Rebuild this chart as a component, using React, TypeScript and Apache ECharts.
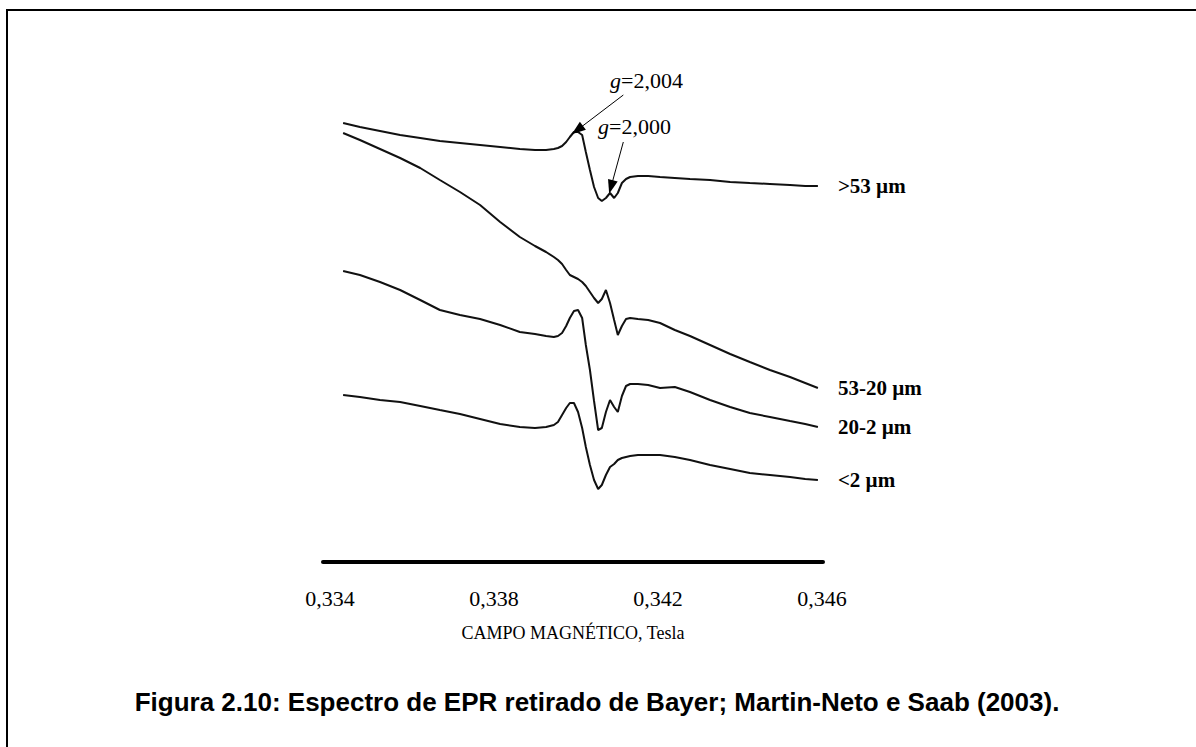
import React, { useEffect, useRef } from "react";
import * as echarts from "echarts";

// Magnetic field (Tesla) sampling of the spectra
const fieldTesla = [
  0.33432, 0.33473, 0.33522, 0.33571, 0.3362, 0.33668, 0.33717, 0.33766, 0.33815, 0.33863,
  0.339, 0.33927, 0.33946, 0.33956, 0.33966, 0.33976, 0.33985, 0.33995, 0.34005, 0.34015,
  0.34024, 0.34034, 0.34044, 0.34054, 0.34063, 0.34073, 0.34083, 0.34093, 0.34102, 0.34112,
  0.34122, 0.34132, 0.34151, 0.34176, 0.34205, 0.34241, 0.34278, 0.34327, 0.34376, 0.34424,
  0.34473, 0.34522, 0.34559, 0.3459,
];

// EPR signal (arbitrary units, stacked with offsets)
const signalGt53 = [
  439, 435, 431, 427, 424, 421, 419, 417, 415, 413,
  412, 412, 413, 414, 416, 420, 425, 430, 430, 427,
  410, 392, 375, 364, 361, 364, 369, 364, 369, 379,
  383, 385, 386, 386, 385, 384, 383, 382, 380, 379,
  378, 377, 376, 376,
];
const signal53to20 = [
  429, 422, 413, 404, 394, 382, 370, 357, 340, 325,
  316, 310, 305, 302, 298, 292, 287, 285, 283, 280,
  276, 270, 264, 259, 263, 272, 259, 242, 227, 236,
  243, 244, 243, 242, 239, 232, 226, 217, 208, 200,
  192, 185, 179, 174,
];
const signal20to2 = [
  291, 287, 280, 272, 262, 252, 247, 243, 237, 230,
  228, 226, 225, 226, 229, 236, 244, 251, 252, 244,
  217, 192, 161, 132, 134, 150, 162, 155, 150, 166,
  176, 178, 178, 177, 174, 175, 170, 162, 155, 149,
  145, 141, 138, 135,
];
const signalLt2 = [
  167, 165, 162, 160, 156, 152, 148, 143, 138, 135,
  134, 135, 137, 140, 147, 154, 159, 159, 150, 134,
  115, 97, 82, 73, 77, 87, 95, 98, 102, 104,
  105, 106, 107, 107, 107, 105, 102, 97, 93, 89,
  87, 85, 83, 82,
];

const traceLabels = [">53 µm", "53-20 µm", "20-2 µm", "<2 µm"];
const tickValues = [0.334, 0.338, 0.342, 0.346];
const axisTitle = "CAMPO MAGNÉTICO, Tesla";
const caption = "Figura 2.10: Espectro de EPR retirado de Bayer; Martin-Neto e Saab (2003).";

// g-factor annotations: label, text anchor, arrow start, arrow tip (data coordinates)
const gLabels = ["2,004", "2,000"];
const gTextAnchor = [[0.340829, 482], [0.340537, 436]];
const gArrowFrom = [[0.341154, 467], [0.341154, 420]];
const gArrowTo = [[0.340032, 432], [0.340854, 375]];

export default function App() {
  const ref = useRef<HTMLDivElement>(null);

  useEffect(() => {
    document.body.style.margin = "0";
    const chart = echarts.init(ref.current!, undefined, { renderer: "svg" });
    const serif = "'Liberation Serif', 'Times New Roman', serif";
    const signals = [signalGt53, signal53to20, signal20to2, signalLt2];

    const series: any[] = signals.map((sig, k) => ({
      type: "line",
      name: traceLabels[k],
      data: fieldTesla.map((f, i) => [f, sig[i]]),
      showSymbol: false,
      silent: true,
      lineStyle: { color: "#111", width: 2 },
      endLabel: {
        show: true,
        formatter: traceLabels[k],
        distance: 20,
        color: "#000",
        fontFamily: serif,
        fontWeight: "bold",
        fontSize: 21,
      },
    }));

    series[0].markLine = {
      silent: true,
      symbol: ["none", "triangle"],
      symbolSize: [10, 14],
      lineStyle: { color: "#000", width: 1, type: "solid" },
      label: { show: false },
      data: gArrowFrom.map((p, i) => [
        { coord: p, symbol: "none" },
        { coord: gArrowTo[i], symbol: "triangle" },
      ]),
    };
    series[0].markPoint = {
      silent: true,
      symbol: "circle",
      symbolSize: 0,
      data: gLabels.map((t, i) => ({
        coord: gTextAnchor[i],
        label: {
          show: true,
          position: "right",
          distance: 0,
          formatter: "{i|g}{n|=" + t + "}",
          rich: {
            i: { fontStyle: "italic", fontFamily: serif, fontSize: 22, color: "#000" },
            n: { fontFamily: serif, fontSize: 22, color: "#000" },
          },
        },
      })),
    };

    chart.setOption({
      animation: false,
      backgroundColor: "#fff",
      grid: { left: 323, right: 373, top: 62, bottom: 185 },
      xAxis: {
        type: "value",
        min: 0.334 - 7 / 41000,
        max: 0.334 + 493 / 41000,
        axisLine: { show: true, lineStyle: { color: "#000", width: 4 } },
        axisTick: { show: false },
        splitLine: { show: false },
        axisLabel: {
          customValues: tickValues,
          formatter: (v: number) => v.toFixed(3).replace(".", ","),
          margin: 25,
          color: "#000",
          fontFamily: serif,
          fontSize: 22,
        },
        name: axisTitle,
        nameLocation: "middle",
        nameGap: 62,
        nameTextStyle: { color: "#000", fontFamily: serif, fontSize: 18 },
      },
      yAxis: { type: "value", min: 0, max: 500, show: false },
      series,
      graphic: [
        {
          type: "rect",
          shape: { x: 7, y: 10, width: 1400, height: 900 },
          style: { fill: "none", stroke: "#000", lineWidth: 2 },
          silent: true,
        },
        {
          type: "text",
          x: 597,
          y: 702,
          style: {
            text: caption,
            fill: "#000",
            font: "bold 26px 'Liberation Sans', Arial, sans-serif",
            textAlign: "center",
            textVerticalAlign: "middle",
          },
        },
      ],
    });
    return () => chart.dispose();
  }, []);

  return (
    <div
      ref={ref}
      style={{ position: "absolute", left: 0, top: 0, width: 1196, height: 747 }}
    />
  );
}
